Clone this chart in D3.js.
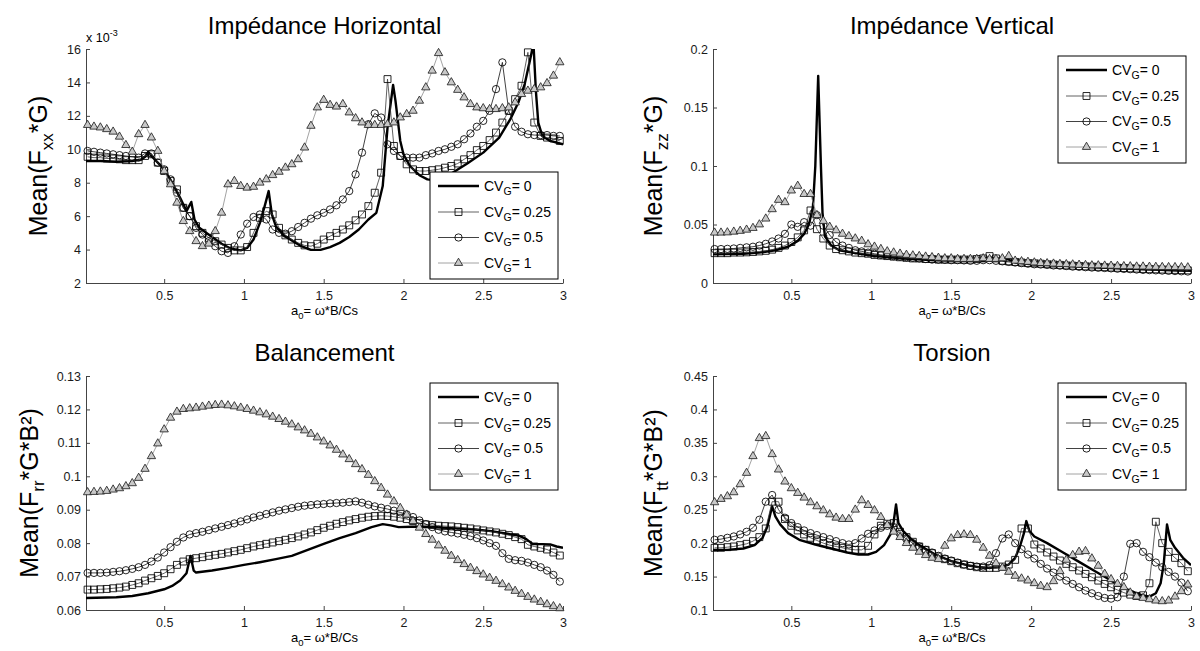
<!DOCTYPE html>
<html>
<head>
<meta charset="utf-8">
<script src="https://cdn.jsdelivr.net/npm/d3@7"></script>
<style>
  body { margin: 0; background: #fff; }
  svg { font-family: "Liberation Sans", Arial, sans-serif; }
</style>
</head>
<body>
<svg id="fig" width="1200" height="651"></svg>
<script>
// frequency grid a0 = w*B/Cs, where the marker series were sampled
const a0 = [0.02, 0.06, 0.10, 0.14, 0.18, 0.22, 0.26, 0.30, 0.34, 0.38,
    0.42, 0.46, 0.50, 0.54, 0.58, 0.62, 0.66, 0.70, 0.74, 0.78,
    0.82, 0.86, 0.90, 0.94, 0.98, 1.02, 1.06, 1.10, 1.14, 1.18,
    1.22, 1.26, 1.30, 1.34, 1.38, 1.42, 1.46, 1.50, 1.54, 1.58,
    1.62, 1.66, 1.70, 1.74, 1.78, 1.82, 1.86, 1.90, 1.94, 1.98,
    2.02, 2.06, 2.10, 2.14, 2.18, 2.22, 2.26, 2.30, 2.34, 2.38,
    2.42, 2.46, 2.50, 2.54, 2.58, 2.62, 2.66, 2.70, 2.74, 2.78,
    2.82, 2.86, 2.90, 2.94, 2.98];

const cvLevels = ["0", "0.25", "0.5", "1"];
const xTicks = [0.5, 1, 1.5, 2, 2.5, 3];
const xTickLabels = ["0.5", "1", "1.5", "2", "2.5", "3"];

// ---- Impédance Horizontal (values x 10^-3)
const horizCv0 = [[0.01, 9.3], [0.1, 9.3], [0.2, 9.25], [0.3, 9.3], [0.36, 9.4], [0.385, 9.6], [0.40, 9.85],
    [0.42, 9.6], [0.46, 9.2], [0.5, 8.8], [0.55, 8.0], [0.6, 7.1], [0.64, 6.3], [0.67, 6.85], [0.69, 5.8],
    [0.72, 5.3], [0.8, 4.75], [0.86, 4.35], [0.92, 4.05], [0.98, 3.95], [1.02, 4.1], [1.06, 4.6], [1.1, 5.6],
    [1.13, 6.6], [1.155, 7.5], [1.175, 6.1], [1.2, 5.4], [1.25, 4.85], [1.3, 4.55], [1.36, 4.2], [1.42, 3.98],
    [1.48, 3.98], [1.54, 4.15], [1.6, 4.4], [1.66, 4.75], [1.72, 5.2], [1.78, 5.8], [1.83, 6.2], [1.87, 7.8],
    [1.9, 11.3], [1.935, 13.85], [1.95, 12.9], [1.98, 10.5], [2.0, 9.7], [2.04, 9.0], [2.1, 8.45], [2.15, 8.2],
    [2.2, 8.15], [2.25, 8.3], [2.3, 8.55], [2.4, 9.15], [2.5, 9.8], [2.6, 10.7], [2.67, 11.8], [2.72, 12.8],
    [2.76, 13.9], [2.79, 15.2], [2.815, 16.3], [2.83, 13.5], [2.845, 11.6], [2.87, 10.8], [2.92, 10.5], [3.0, 10.3]];
const horizCv025 = [9.55, 9.5, 9.5, 9.45, 9.45, 9.4, 9.35, 9.35, 9.35, 9.6,
    9.7, 9.2, 8.7, 8.1, 7.6, 6.5, 6.0, 5.4, 5.0, 4.7,
    4.5, 4.3, 4.1, 3.95, 3.95, 4.15, 5.0, 5.9, 6.3, 6.1,
    5.3, 4.85, 4.6, 4.4, 4.25, 4.2, 4.35, 4.6, 4.8, 5.0,
    5.2, 5.45, 5.75, 6.1, 6.6, 7.4, 8.6, 14.2, 10.2, 9.6,
    9.1, 8.8, 8.7, 8.7, 8.75, 8.8, 8.9, 9.0, 9.15, 9.4,
    9.65, 9.95, 10.2, 10.55, 11.0, 11.6, 12.3, 13.0, 13.8, 15.8,
    11.6, 10.8, 10.7, 10.65, 10.5];
const horizCv05 = [9.9, 9.85, 9.8, 9.75, 9.7, 9.65, 9.6, 9.55, 9.5, 9.75,
    9.75, 9.2, 8.8, 8.2, 7.4, 6.5, 6.0, 5.3, 4.9, 4.5,
    4.2, 3.9, 3.8, 4.2, 4.9, 5.55, 5.95, 6.1, 5.8, 5.2,
    5.0, 4.95, 5.1, 5.35, 5.6, 5.85, 6.05, 6.2, 6.4, 6.65,
    7.0, 7.5, 8.5, 9.8, 11.5, 12.15, 11.9, 10.3, 9.9, 9.6,
    9.5, 9.5, 9.5, 9.65, 9.75, 9.9, 10.0, 10.15, 10.3, 10.6,
    10.95, 11.35, 11.7, 12.3, 13.6, 15.2, 12.3, 11.35, 11.05, 10.9,
    10.85, 10.85, 10.85, 10.8, 10.8];
const horizCv1 = [11.45, 11.35, 11.3, 11.2, 11.05, 10.75, 10.25, 9.85, 10.9, 11.45,
    10.7, 9.9, 8.7, 7.9, 6.8, 5.7, 5.1, 4.5, 4.2, 4.35,
    5.1, 6.2, 7.9, 8.1, 7.8, 7.7, 7.75, 8.0, 8.2, 8.45,
    8.65, 8.9, 9.1, 9.4, 10.1, 11.4, 12.5, 12.95, 12.65, 12.55,
    12.7, 12.2, 11.85, 11.6, 11.45, 11.45, 11.45, 11.5, 11.6, 11.9,
    12.1, 12.3, 12.9, 13.7, 14.7, 15.75, 14.6, 14.0, 13.55, 13.1,
    12.7, 12.5, 12.45, 12.4, 12.4, 12.45, 12.5, 12.8, 13.3, 13.5,
    13.6, 13.7, 13.95, 14.4, 15.2];
const horizYTicks = [2, 4, 6, 8, 10, 12, 14, 16];
const horizYTickLabels = ["2", "4", "6", "8", "10", "12", "14", "16"];

// ---- Impédance Vertical
const vertCv0 = [[0.01, 0.0245], [0.2, 0.025], [0.3, 0.026], [0.4, 0.028], [0.48, 0.031], [0.54, 0.036],
    [0.58, 0.042], [0.61, 0.05], [0.635, 0.065], [0.65, 0.10], [0.668, 0.177], [0.685, 0.10], [0.695, 0.06],
    [0.71, 0.04], [0.75, 0.032], [0.8, 0.028], [0.9, 0.0255], [1.0, 0.0235], [1.2, 0.021], [1.4, 0.0195],
    [1.6, 0.019], [1.75, 0.019], [1.85, 0.0205], [1.9, 0.0175], [2.0, 0.016], [2.5, 0.0128], [3.0, 0.0105]];
const vertCv025 = [0.0255, 0.0255, 0.0255, 0.026, 0.026, 0.0262, 0.0265, 0.027, 0.0275, 0.0285,
    0.030, 0.032, 0.035, 0.039, 0.045, 0.062, 0.046, 0.038, 0.032, 0.029,
    0.028, 0.027, 0.026, 0.0255, 0.025, 0.024, 0.0235, 0.023, 0.0225, 0.022,
    0.0215, 0.021, 0.021, 0.0205, 0.0205, 0.020, 0.020, 0.020, 0.020, 0.020,
    0.020, 0.0205, 0.021, 0.023, 0.021, 0.019, 0.0185, 0.018, 0.0175, 0.017,
    0.0168, 0.0165, 0.016, 0.0158, 0.0155, 0.015, 0.0148, 0.0145, 0.0142, 0.014,
    0.0138, 0.0135, 0.0132, 0.013, 0.0128, 0.0125, 0.0123, 0.012, 0.0118, 0.0117,
    0.0115, 0.0113, 0.0112, 0.011, 0.0108];
const vertCv05 = [0.029, 0.029, 0.0292, 0.0295, 0.030, 0.0305, 0.031, 0.032, 0.0335, 0.0355,
    0.038, 0.042, 0.050, 0.048, 0.052, 0.049, 0.058, 0.049, 0.041, 0.035,
    0.032, 0.030, 0.028, 0.027, 0.026, 0.025, 0.024, 0.0235, 0.023, 0.0225,
    0.022, 0.0215, 0.021, 0.0205, 0.020, 0.020, 0.0198, 0.0195, 0.0195, 0.0193,
    0.019, 0.019, 0.0195, 0.0195, 0.019, 0.0185, 0.018, 0.0175, 0.017, 0.0165,
    0.016, 0.0158, 0.0155, 0.015, 0.0148, 0.0145, 0.014, 0.0138, 0.0135, 0.0132,
    0.013, 0.0128, 0.0125, 0.0122, 0.012, 0.0118, 0.0115, 0.0112, 0.011, 0.0108,
    0.0106, 0.0104, 0.0102, 0.010, 0.0098];
const vertCv1 = [0.043, 0.043, 0.0432, 0.0438, 0.0445, 0.0455, 0.047, 0.050, 0.055, 0.063,
    0.071, 0.069, 0.079, 0.083, 0.076, 0.076, 0.058, 0.053, 0.048, 0.045,
    0.042, 0.040, 0.038, 0.036, 0.033, 0.031, 0.029, 0.027, 0.026, 0.025,
    0.024, 0.0235, 0.023, 0.0225, 0.022, 0.0215, 0.021, 0.021, 0.0205, 0.0205,
    0.0205, 0.0205, 0.021, 0.0205, 0.0205, 0.021, 0.023, 0.019, 0.0185, 0.018,
    0.0175, 0.017, 0.0168, 0.0165, 0.0162, 0.016, 0.0158, 0.0155, 0.0153, 0.015,
    0.015, 0.0148, 0.0147, 0.0145, 0.0143, 0.0142, 0.014, 0.014, 0.0138, 0.0137,
    0.0136, 0.0135, 0.0135, 0.0134, 0.0133];
const vertYTicks = [0, 0.05, 0.1, 0.15, 0.2];
const vertYTickLabels = ["0", "0.05", "0.1", "0.15", "0.2"];

// ---- Balancement
const balCv0 = [[0.01, 0.0636], [0.2, 0.0638], [0.3, 0.0642], [0.4, 0.065], [0.5, 0.0662], [0.55, 0.0672],
    [0.6, 0.0688], [0.64, 0.071], [0.665, 0.0762], [0.685, 0.0718], [0.7, 0.0712], [0.8, 0.0718], [0.9, 0.0726],
    [1.0, 0.0735], [1.1, 0.0743], [1.2, 0.0752], [1.3, 0.0762], [1.4, 0.078], [1.5, 0.0798], [1.6, 0.0815],
    [1.7, 0.083], [1.8, 0.0848], [1.87, 0.0857], [1.92, 0.0853], [1.97, 0.0848], [2.05, 0.0849], [2.15, 0.0849],
    [2.3, 0.0845], [2.45, 0.0841], [2.55, 0.0836], [2.65, 0.0828], [2.72, 0.0823], [2.77, 0.0812], [2.81, 0.0797],
    [2.87, 0.0797], [2.92, 0.0796], [2.96, 0.079], [3.0, 0.0786]];
const balCv025 = [0.0661, 0.0661, 0.0662, 0.0663, 0.0665, 0.0667, 0.067, 0.0675, 0.068, 0.0688,
    0.0695, 0.0702, 0.071, 0.0722, 0.0735, 0.0745, 0.0752, 0.0755, 0.0758, 0.0762,
    0.0765, 0.0768, 0.0772, 0.0776, 0.078, 0.0785, 0.079, 0.0794, 0.0798, 0.0802,
    0.0806, 0.081, 0.0815, 0.082, 0.0826, 0.0832, 0.0839, 0.0846, 0.0852, 0.0858,
    0.0863, 0.0868, 0.0872, 0.0876, 0.0879, 0.0881, 0.0882, 0.0881, 0.0879, 0.0876,
    0.0872, 0.0866, 0.086, 0.0856, 0.0854, 0.0852, 0.0851, 0.085, 0.0848, 0.0846,
    0.0844, 0.0841, 0.0838, 0.0835, 0.0832, 0.0828, 0.0824, 0.0818, 0.0812, 0.0795,
    0.079, 0.0786, 0.0781, 0.0772, 0.0763];
const balCv05 = [0.0711, 0.0711, 0.0711, 0.0712, 0.0714, 0.0716, 0.0719, 0.0723, 0.0728, 0.0735,
    0.0745, 0.0757, 0.0772, 0.0788, 0.0804, 0.0817, 0.0826, 0.083, 0.0834, 0.0839,
    0.0844, 0.0849, 0.0854, 0.0859, 0.0865, 0.0871, 0.0877, 0.0882, 0.0887, 0.0892,
    0.0897, 0.0901, 0.0905, 0.0909, 0.0912, 0.0914, 0.0916, 0.0917, 0.0919, 0.092,
    0.0921, 0.0923, 0.0925, 0.0921, 0.0915, 0.091, 0.0906, 0.0902, 0.0897, 0.0892,
    0.0886, 0.0878, 0.0868, 0.0857, 0.0848, 0.084, 0.0835, 0.0832, 0.0829, 0.0825,
    0.0821, 0.0815, 0.0808, 0.08, 0.0792, 0.077, 0.0753, 0.0749, 0.0747, 0.0742,
    0.0735, 0.0728, 0.0718, 0.0705, 0.0685];
const balCv1 = [0.0952, 0.0953, 0.0954, 0.0956, 0.096, 0.0964, 0.097, 0.0979, 0.0995, 0.1022,
    0.106, 0.1098, 0.114, 0.1175, 0.1193, 0.1201, 0.1203, 0.1205, 0.1208, 0.1211,
    0.1213, 0.1214, 0.1212, 0.1209, 0.1205, 0.1201, 0.1196, 0.1191, 0.1185, 0.1178,
    0.1171, 0.1163, 0.1155, 0.1146, 0.1137, 0.1127, 0.1116, 0.1104, 0.1092, 0.1079,
    0.1065, 0.1051, 0.1036, 0.1021, 0.1004, 0.0985, 0.0965, 0.0945, 0.0925, 0.0905,
    0.0885, 0.0866, 0.0846, 0.0827, 0.081, 0.0793, 0.0777, 0.0762, 0.0749, 0.0737,
    0.0726, 0.0716, 0.0706, 0.0696, 0.0687, 0.0677, 0.0667, 0.0657, 0.0648, 0.0639,
    0.0631, 0.0624, 0.0617, 0.0611, 0.0605];
const balYTicks = [0.06, 0.07, 0.08, 0.09, 0.1, 0.11, 0.12, 0.13];
const balYTickLabels = ["0.06", "0.07", "0.08", "0.09", "0.1", "0.11", "0.12", "0.13"];

// ---- Torsion
const torCv0 = [[0.01, 0.19], [0.1, 0.19], [0.2, 0.192], [0.27, 0.197], [0.32, 0.208], [0.35, 0.225],
    [0.37, 0.245], [0.38, 0.255], [0.4, 0.24], [0.43, 0.228], [0.48, 0.215], [0.55, 0.205], [0.65, 0.198],
    [0.75, 0.192], [0.85, 0.186], [0.92, 0.183], [0.98, 0.183], [1.03, 0.187], [1.08, 0.197], [1.12, 0.213],
    [1.14, 0.232], [1.155, 0.258], [1.17, 0.23], [1.2, 0.218], [1.25, 0.206], [1.3, 0.197], [1.4, 0.183],
    [1.5, 0.173], [1.6, 0.167], [1.7, 0.163], [1.8, 0.164], [1.86, 0.168], [1.9, 0.178], [1.93, 0.195],
    [1.955, 0.215], [1.97, 0.233], [1.99, 0.218], [2.02, 0.21], [2.1, 0.2], [2.2, 0.186], [2.3, 0.172],
    [2.4, 0.158], [2.5, 0.144], [2.6, 0.131], [2.68, 0.123], [2.74, 0.12], [2.78, 0.125], [2.81, 0.14],
    [2.83, 0.17], [2.85, 0.228], [2.87, 0.205], [2.9, 0.193], [2.95, 0.178], [3.0, 0.167]];
const torCv025 = [0.193, 0.193, 0.194, 0.195, 0.197, 0.199, 0.203, 0.209, 0.222, 0.262,
    0.262, 0.236, 0.226, 0.219, 0.213, 0.208, 0.204, 0.2, 0.197, 0.195,
    0.193, 0.191, 0.19, 0.19, 0.196, 0.213, 0.226, 0.229, 0.23, 0.217,
    0.209, 0.202, 0.195, 0.19, 0.185, 0.18, 0.176, 0.173, 0.17, 0.168,
    0.166, 0.164, 0.163, 0.163, 0.163, 0.165, 0.168, 0.175, 0.222, 0.222,
    0.198, 0.192, 0.186, 0.18, 0.174, 0.169, 0.164, 0.159, 0.154, 0.149,
    0.144, 0.139, 0.134, 0.13, 0.126, 0.123, 0.121, 0.122, 0.14, 0.232,
    0.2, 0.187, 0.178, 0.17, 0.158];
const torCv05 = [0.205, 0.206, 0.208, 0.21, 0.213, 0.217, 0.223, 0.235, 0.262, 0.272,
    0.25, 0.238, 0.23, 0.224, 0.219, 0.215, 0.212, 0.209, 0.206, 0.203,
    0.2, 0.198, 0.2, 0.207, 0.214, 0.219, 0.223, 0.226, 0.224, 0.214,
    0.206, 0.2, 0.195, 0.19, 0.186, 0.181, 0.177, 0.174, 0.171, 0.168,
    0.166, 0.165, 0.165, 0.167, 0.185, 0.207, 0.213, 0.2, 0.191, 0.183,
    0.177, 0.169, 0.162, 0.156, 0.15, 0.144, 0.139, 0.134, 0.129, 0.125,
    0.121, 0.118, 0.117, 0.119, 0.15, 0.199, 0.2, 0.187, 0.179, 0.171,
    0.164, 0.157, 0.15, 0.141, 0.128];
const torCv1 = [0.261, 0.266, 0.27, 0.276, 0.288, 0.305, 0.33, 0.357, 0.36, 0.333,
    0.31, 0.292, 0.282, 0.275, 0.268, 0.261, 0.255, 0.249, 0.243, 0.238,
    0.236, 0.236, 0.25, 0.264, 0.257, 0.249, 0.239, 0.227, 0.217, 0.209,
    0.2, 0.193, 0.187, 0.182, 0.178, 0.176, 0.196, 0.207, 0.212, 0.213,
    0.212, 0.205, 0.193, 0.181, 0.17, 0.163, 0.157, 0.151, 0.147, 0.144,
    0.14, 0.136, 0.134, 0.143, 0.158, 0.175, 0.182, 0.187, 0.188, 0.177,
    0.166, 0.154, 0.146, 0.139, 0.134, 0.126, 0.12, 0.118, 0.116, 0.114,
    0.113, 0.114, 0.12, 0.128, 0.138];
const torYTicks = [0.1, 0.15, 0.2, 0.25, 0.3, 0.35, 0.4, 0.45];
const torYTickLabels = ["0.1", "0.15", "0.2", "0.25", "0.3", "0.35", "0.4", "0.45"];

// ---- layout of the 2x2 figure
const xDomain = [0.01, 3];
const panels = [
    {id: "h", title: "Impédance Horizontal", box: [86, 49, 563, 283], yDomain: [2, 16],
     yTicks: horizYTicks, yLabels: horizYTickLabels, labelX: 47, sub: "xx", rest: "*G)",
     exponent: true, legendAt: "bottom", cv0: horizCv0, marked: [horizCv025, horizCv05, horizCv1]},
    {id: "v", title: "Impédance Vertical", box: [713, 49, 1191, 283], yDomain: [0, 0.2],
     yTicks: vertYTicks, yLabels: vertYTickLabels, labelX: 662, sub: "zz", rest: "*G)",
     legendAt: "top", cv0: vertCv0, marked: [vertCv025, vertCv05, vertCv1]},
    {id: "b", title: "Balancement", box: [86, 376, 563, 610], yDomain: [0.06, 0.13],
     yTicks: balYTicks, yLabels: balYTickLabels, labelX: 38, sub: "rr", rest: "*G*B²)",
     legendAt: "top", cv0: balCv0, marked: [balCv025, balCv05, balCv1]},
    {id: "t", title: "Torsion", box: [713, 376, 1191, 610], yDomain: [0.1, 0.45],
     yTicks: torYTicks, yLabels: torYTickLabels, labelX: 662, sub: "tt", rest: "*G*B²)",
     legendAt: "top", cv0: torCv0, marked: [torCv025, torCv05, torCv1]}
];

const styles = [
    {stroke: "#000", width: 2.4},
    {stroke: "#3a3a3a", width: 0.8, symbol: d3.symbolSquare, size: 48, fill: "none", edge: "#000"},
    {stroke: "#111", width: 0.8, symbol: d3.symbolCircle, size: 42, fill: "none", edge: "#000"},
    {stroke: "#8c8c8c", width: 0.8, symbol: d3.symbolTriangle, size: 30, fill: "#c8c8c8", edge: "#222"}
];

const svg = d3.select("#fig");
const defs = svg.append("defs");

function drawPanel(p) {
    let [left, top, right, bottom] = p.box;
    let x = d3.scaleLinear().domain(xDomain).range([left, right]);
    let y = d3.scaleLinear().domain(p.yDomain).range([bottom, top]);
    let g = svg.append("g");

    defs.append("clipPath").attr("id", "clip-" + p.id)
        .append("rect")
        .attr("x", left).attr("y", top)
        .attr("width", right - left).attr("height", bottom - top);

    // axes (box off, ticks pointing in)
    let xAxis = g.append("g")
        .attr("transform", `translate(0, ${bottom})`)
        .call(d3.axisBottom(x).tickValues(xTicks)
            .tickFormat((d, i) => xTickLabels[i])
            .tickSizeInner(-4).tickSizeOuter(0).tickPadding(8.5));
    let yAxis = g.append("g")
        .attr("transform", `translate(${left}, 0)`)
        .call(d3.axisLeft(y).tickValues(p.yTicks)
            .tickFormat((d, i) => p.yLabels[i])
            .tickSizeInner(-4).tickSizeOuter(0).tickPadding(5));
    [xAxis, yAxis].forEach(a => {
        a.select(".domain").attr("stroke", "#444");
        a.selectAll(".tick line").attr("stroke", "#444");
        a.selectAll(".tick text").attr("fill", "#1a1a1a")
            .style("font-size", "12.5px").style("font-family", "Liberation Sans, Arial, sans-serif");
    });

    let line = d3.line().x(d => x(d[0])).y(d => y(d[1]));

    // CV_G = 0 : thick line, no markers
    g.append("path")
        .datum(p.cv0)
        .attr("clip-path", `url(#clip-${p.id})`)
        .attr("fill", "none")
        .attr("stroke", styles[0].stroke)
        .attr("stroke-width", styles[0].width)
        .attr("stroke-linejoin", "round")
        .attr("d", line);

    p.marked.forEach((values, k) => {
        let s = styles[k + 1];
        let pts = a0.map((a, i) => [a, values[i]]);
        g.append("path")
            .datum(pts)
            .attr("clip-path", `url(#clip-${p.id})`)
            .attr("fill", "none")
            .attr("stroke", s.stroke)
            .attr("stroke-width", s.width)
            .attr("d", line);
        g.selectAll(null)
            .data(pts)
            .join("path")
            .attr("transform", d => `translate(${x(d[0])}, ${y(d[1])})`)
            .attr("d", d3.symbol(s.symbol, s.size))
            .attr("fill", s.fill)
            .attr("stroke", s.edge)
            .attr("stroke-width", 0.85);
    });

    // title
    g.append("text")
        .attr("x", (left + right) / 2)
        .attr("y", top - 15)
        .attr("text-anchor", "middle")
        .style("font-size", "24px")
        .text(p.title);

    // x label  a0= w*B/Cs
    let xl = g.append("text")
        .attr("x", (left + right) / 2)
        .attr("y", bottom + 32)
        .attr("text-anchor", "middle")
        .style("font-size", "13px");
    xl.append("tspan").text("a");
    xl.append("tspan").attr("dy", 4).style("font-size", "9.5px").text("0");
    xl.append("tspan").attr("dy", -4).text("= ω*B/Cs");

    // y label
    let yl = g.append("text")
        .attr("transform", `translate(${p.labelX}, ${(top + bottom) / 2}) rotate(-90)`)
        .attr("text-anchor", "middle")
        .style("font-size", "25px");
    yl.append("tspan").text("Mean(F");
    yl.append("tspan").attr("dy", 6).style("font-size", "17px").text(p.sub);
    yl.append("tspan").attr("dy", -6).text(p.rest);

    if (p.exponent) {
        let ex = g.append("text")
            .attr("x", left)
            .attr("y", top - 7)
            .style("font-size", "12.5px");
        ex.append("tspan").text("x 10");
        ex.append("tspan").attr("dy", -6).style("font-size", "9px").text("-3");
    }

    // legend
    let lw = 128, lh = 107;
    let lx = right - 5 - lw;
    let ly = p.legendAt === "top" ? top + 7 : bottom - 4 - lh;
    let lg = g.append("g");
    lg.append("rect")
        .attr("x", lx).attr("y", ly)
        .attr("width", lw).attr("height", lh)
        .attr("fill", "#fff").attr("stroke", "#000").attr("stroke-width", 1);
    let rows = [14, 40, 65.5, 91];
    styles.forEach((s, i) => {
        let ry = ly + rows[i];
        lg.append("line")
            .attr("x1", lx + 8).attr("x2", lx + 49)
            .attr("y1", ry).attr("y2", ry)
            .attr("stroke", s.stroke).attr("stroke-width", s.width);
        if (s.symbol) {
            lg.append("path")
                .attr("transform", `translate(${lx + 28.5}, ${ry})`)
                .attr("d", d3.symbol(s.symbol, s.size)())
                .attr("fill", s.fill).attr("stroke", s.edge).attr("stroke-width", 0.85);
        }
        let t = lg.append("text")
            .attr("x", lx + 54).attr("y", ry + 4.5)
            .style("font-size", "14px");
        t.append("tspan").text("CV");
        t.append("tspan").attr("dy", 4).style("font-size", "10.5px").text("G");
        t.append("tspan").attr("dy", -4).text("= " + cvLevels[i]);
    });
}

panels.forEach(drawPanel);
</script>
</body>
</html>
